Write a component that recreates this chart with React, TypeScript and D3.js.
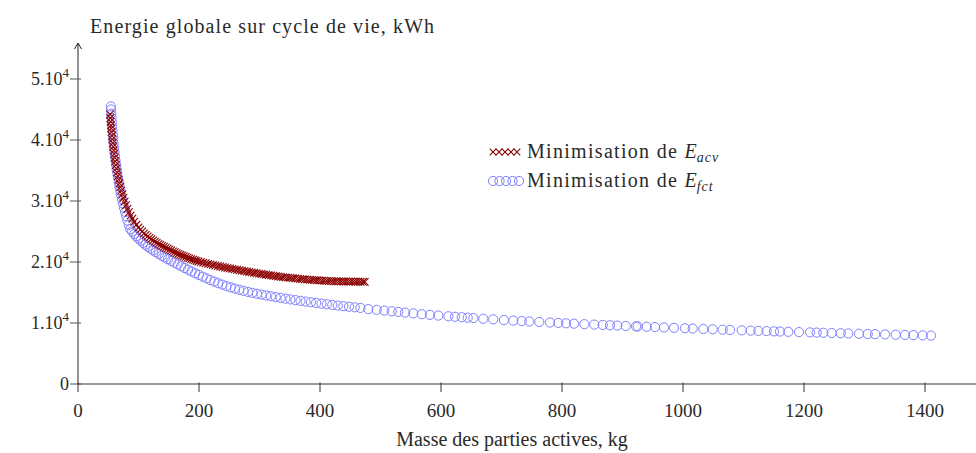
import * as React from "react"
import * as d3 from "d3"

// Minimisation de E_acv (croix rouges)
const massAcv = [
    53.0, 53.5, 54.0, 54.5, 55.0, 55.6, 56.2, 56.8, 57.5, 58.2, 59.0, 59.8, 60.7, 61.6, 62.6, 63.6, 64.7, 65.9, 67.2, 68.6,
    70.0, 71.6, 73.3, 75.1, 77.1, 79.3, 81.7, 84.2, 86.9, 89.8, 93.0, 96.5,
    100, 103, 106, 109, 112, 115, 118, 121, 124, 127, 130, 133, 136, 139, 142, 145, 148, 151, 154, 157,
    160, 163, 166, 169, 172, 175, 178, 181, 184, 187, 190, 193, 196, 199,
    203, 207, 211, 215, 219, 223, 227, 231, 235, 239, 243, 247, 251, 255, 259, 263, 267, 271, 275, 279,
    283, 287, 291, 295, 299, 303, 307, 311, 315, 319, 323, 327, 331, 335, 339, 343, 347, 351, 355, 359,
    363, 367, 371, 375, 379, 383, 387, 391, 395, 399, 403, 407, 411, 415, 419, 423, 427, 431, 435, 439,
    443, 447, 451, 455, 459, 463, 467, 471, 474,
]
const energieAcv = [
    44200, 43600, 43000, 42400, 41900, 41300, 40700, 40100, 39500, 38900, 38300, 37700, 37100, 36500, 35900, 35300, 34700, 34100, 33500, 32900,
    32300, 31700, 31100, 30500, 29900, 29300, 28700, 28150, 27600, 27100, 26600, 26100,
    25650, 25300, 25000, 24700, 24450, 24200, 23950, 23750, 23550, 23350, 23150, 22980, 22800, 22650, 22500, 22340, 22200, 22050, 21900, 21750,
    21600, 21450, 21320, 21180, 21060, 20940, 20820, 20700, 20590, 20480, 20380, 20280, 20180, 20090,
    19990, 19890, 19790, 19700, 19610, 19520, 19430, 19340, 19260, 19180, 19100, 19020, 18950, 18870, 18800, 18720, 18650, 18580, 18510, 18440,
    18370, 18300, 18230, 18160, 18100, 18040, 17980, 17920, 17860, 17800, 17740, 17680, 17630, 17580, 17530, 17480, 17430, 17390, 17350, 17310,
    17270, 17230, 17190, 17160, 17120, 17090, 17060, 17030, 17000, 16980, 16950, 16930, 16910, 16890, 16870, 16850, 16840, 16830, 16820, 16810,
    16800, 16790, 16780, 16775, 16770, 16765, 16760, 16755, 16750,
]

// Minimisation de E_fct (cercles bleus)
const massFct = [
    54.3, 54.6, 55.0, 55.4, 55.9, 56.4, 57.0, 57.6, 58.2, 58.9, 59.6, 60.4, 61.2, 62.1, 63.0, 64.0, 65.0, 66.1, 67.3, 68.5,
    69.8, 71.2, 72.7, 74.3, 76.0, 77.8, 79.7, 81.8, 84.0, 86.4, 89.5, 92.8, 96.2, 99.8, 103.5, 107.4, 111.4, 115.5, 119.8, 124.2,
    128.8, 133.5, 138.4, 143.4, 148.6, 153.9, 159.3, 164.8, 170.4, 176.1, 181.9, 187.8, 193.8, 199.9, 206.1, 212.4, 218.8, 225.3, 231.9, 238.6,
    245.4, 252.3, 259.3, 266.4, 273.6, 280.9, 288.3, 295.8, 303.4, 311.1, 318.9, 326.8, 334.8, 342.9, 351.1, 359.4, 367.8, 376.3, 384.9, 393.6,
    402.4, 411.3, 420.3, 429.4, 438.6, 447.9, 457.3, 466.8, 479.8, 493.7, 506.3, 518.5, 529.4, 540.5, 554.2, 568.1, 581.8, 595.5, 612.1, 623.1,
    634.2, 644.1, 653.4, 669.9, 686.4, 704.1, 719.5, 733.4, 745.9, 762.5, 780.2, 793.9, 806.6, 819.8, 836.9, 853.4, 867.3, 879.3, 891.4, 905.3,
    922.3, 925.1, 940.0, 953.7, 968.6, 985.1, 1003.3, 1016.0, 1033.6, 1049.1, 1065.6, 1077.7, 1097.0, 1111.9, 1124.5, 1138.3, 1150.4, 1160.3, 1174.0, 1191.7,
    1209.9, 1220.9, 1231.9, 1245.8, 1260.7, 1273.2, 1290.9, 1305.3, 1317.4, 1333.9, 1351.6, 1367.0, 1380.7, 1396.2, 1409.9,
]
const energieFct = [
    45500, 45000, 44300, 43600, 42900, 42200, 41500, 40800, 40100, 39400, 38700, 38000, 37300, 36600, 35900, 35200, 34500, 33800, 33100, 32400,
    31700, 31000, 30300, 29600, 28900, 28200, 27500, 26800, 26100, 25400, 25000, 24600, 24220, 23850, 23500, 23150, 22820, 22500, 22200, 21900,
    21600, 21310, 21020, 20740, 20460, 20170, 19890, 19600, 19310, 19020, 18730, 18440, 18160, 17880, 17600, 17320, 17040, 16780, 16530, 16290,
    16060, 15840, 15640, 15450, 15270, 15100, 14940, 14790, 14650, 14510, 14380, 14250, 14120, 13990, 13870, 13750, 13630, 13510, 13400, 13290,
    13180, 13070, 12960, 12860, 12760, 12660, 12570, 12480, 12280, 12150, 12030, 11920, 11820, 11710, 11580, 11450, 11330, 11220, 11100, 11020,
    10940, 10870, 10810, 10700, 10600, 10490, 10400, 10320, 10250, 10170, 10080, 10010, 9950, 9890, 9810, 9740, 9680, 9630, 9580, 9520,
    9450, 9440, 9380, 9330, 9270, 9210, 9140, 9090, 9020, 8960, 8900, 8860, 8800, 8750, 8710, 8670, 8630, 8600, 8560, 8510,
    8460, 8430, 8400, 8360, 8320, 8290, 8240, 8200, 8170, 8130, 8080, 8040, 8010, 7970, 7930,
]

const xTicks = [0, 200, 400, 600, 800, 1000, 1200, 1400]
const yTicks = [0, 10000, 20000, 30000, 40000, 50000]
const yTickLabels = ["0", "1.10", "2.10", "3.10", "4.10", "5.10"]
const legendLabels = ["acv", "fct"]

const RED = "#8b0000"
const BLUE = "#8080ff"
const INK = "#2a2a2a"
const FONT = "'Liberation Serif', serif"

const Cross = ({ x, y, s }: { x: number, y: number, s: number }) => (
    <path d={`M${x - s},${y - s}L${x + s},${y + s}M${x - s},${y + s}L${x + s},${y - s}`} stroke={RED} strokeWidth={1.1} fill="none" />
)

export default function App() {
    const [w, h] = [976, 453]

    const xScale = d3.scaleLinear().domain([0, 1400]).range([78, 925])
    const yScale = d3.scaleLinear().domain([0, 50000]).range([384, 79])
    const x0 = xScale(0)
    const y0 = yScale(0)

    const circles = massFct.map((m, i) => (
        <circle key={i} cx={xScale(m)} cy={yScale(energieFct[i])} r={4.6} fill="none" stroke={BLUE} strokeWidth={1} />
    ))
    const crosses = massAcv.map((m, i) => (
        <Cross key={i} x={xScale(m)} y={yScale(energieAcv[i])} s={3.8} />
    ))

    const xAxis = xTicks.map((d, i) => (
        <g key={i}>
            <line x1={xScale(d)} x2={xScale(d)} y1={y0 - 1.5} y2={y0 + 8} stroke="#333" strokeWidth={1} />
            <text x={xScale(d)} y={y0 + 33} fontSize={19} textAnchor="middle" fill={INK}>{d}</text>
        </g>
    ))

    const yAxis = yTicks.map((d, i) => (
        <g key={i}>
            <line x1={x0 - 8} x2={x0 + 3} y1={yScale(d)} y2={yScale(d)} stroke="#555" strokeWidth={1} />
            <text x={x0 - 9} y={yScale(d) + 6} fontSize={18} textAnchor="end" fill={INK}>
                {yTickLabels[i]}
                {d > 0 && <tspan dy={-8} fontSize={13}>4</tspan>}
            </text>
        </g>
    ))

    const legend = legendLabels.map((lab, i) => {
        const ly = 152 + i * 29
        const markers = [0, 1, 2, 3, 4].map(k => i === 0
            ? <Cross key={k} x={493 + k * 6} y={ly} s={3.3} />
            : <circle key={k} cx={493 + k * 6.5} cy={ly} r={4.6} fill="none" stroke={BLUE} strokeWidth={1} />)
        return (
            <g key={i}>
                {markers}
                <text x={527} y={ly + 6} fontSize={20} fill={INK}>
                    <tspan letterSpacing={1.3}>Minimisation de </tspan>
                    <tspan fontStyle="italic">E</tspan>
                    <tspan fontStyle="italic" fontSize={14} dy={4} letterSpacing={1}>{lab}</tspan>
                </text>
            </g>
        )
    })

    return (
        <svg width={w} height={h} style={{ position: "absolute", left: 0, top: 0, fontFamily: FONT }}>
            <rect width={w} height={h} fill="white" />
            {/* axes */}
            <line x1={x0 - 1} x2={w} y1={y0} y2={y0} stroke="#777" strokeWidth={1.6} />
            <line x1={x0} x2={x0} y1={y0} y2={43} stroke="#777" strokeWidth={1.6} />
            <path d={`M${x0 - 3.5},${49}L${x0},${43}L${x0 + 3.5},${49}`} stroke="#222" strokeWidth={1} fill="none" />
            {xAxis}
            {yAxis}
            {circles}
            {crosses}
            {legend}
            <text x={90} y={33} fontSize={20} letterSpacing={1.1} fill={INK}>Energie globale sur cycle de vie, kWh</text>
            <text x={512} y={446} fontSize={20} textAnchor="middle" fill={INK}>Masse des parties actives, kg</text>
        </svg>
    )
}
